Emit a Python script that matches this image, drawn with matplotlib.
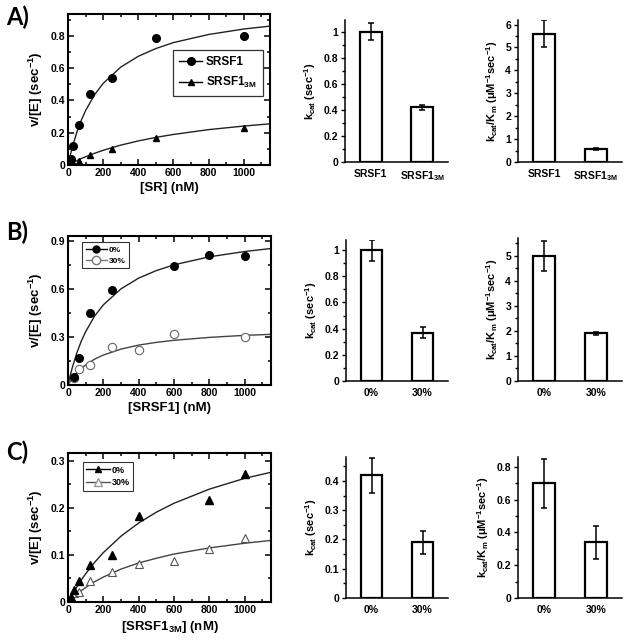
import matplotlib
matplotlib.use("Agg")
import matplotlib.pyplot as plt
from matplotlib.lines import Line2D
from matplotlib.ticker import MultipleLocator, FuncFormatter

plt.rcParams["font.family"] = ["Liberation Sans", "DejaVu Sans"]
plt.rcParams["font.weight"] = "bold"
plt.rcParams["axes.labelweight"] = "bold"
plt.rcParams["mathtext.fontset"] = "custom"
plt.rcParams["mathtext.rm"] = "Liberation Sans:bold"
plt.rcParams["mathtext.it"] = "Liberation Sans:bold"
plt.rcParams["mathtext.bf"] = "Liberation Sans:bold"
plt.rcParams["mathtext.default"] = "rm"

# ---------- data ----------

# A) SRSF1 vs SRSF1_3M
A_x_wt = [7.8, 15.6, 31.25, 62.5, 125, 250, 500, 1000]
A_y_wt = [0.02, 0.04, 0.115, 0.25, 0.44, 0.54, 0.785, 0.80]
A_x_3m = [15.6, 31.25, 62.5, 125, 250, 500, 1000]
A_y_3m = [0.01, 0.015, 0.025, 0.062, 0.10, 0.166, 0.232]

# B) SRSF1, 0% vs 30%
B_x_0 = [31.25, 62.5, 125, 250, 600, 800, 1000]
B_y_0 = [0.05, 0.17, 0.45, 0.59, 0.74, 0.81, 0.805]
B_x_30 = [31.25, 62.5, 125, 250, 400, 600, 1000]
B_y_30 = [0.045, 0.10, 0.125, 0.24, 0.218, 0.32, 0.30]

# C) SRSF1_3M, 0% vs 30%
C_x_0 = [15.6, 31.25, 62.5, 125, 250, 400, 800, 1000]
C_y_0 = [0.01, 0.025, 0.045, 0.078, 0.10, 0.182, 0.218, 0.272]
C_x_30 = [31.25, 62.5, 125, 250, 400, 600, 800, 1000]
C_y_30 = [0.02, 0.022, 0.045, 0.063, 0.08, 0.087, 0.113, 0.137]

# fitted curves
fit_x = [0, 10, 25, 50, 75, 100, 150, 200, 300, 400, 500, 600, 800, 1000, 1150]
fit_A_wt = [0, 0.048, 0.112, 0.202, 0.275, 0.337, 0.433, 0.505, 0.606, 0.673,
            0.721, 0.758, 0.808, 0.842, 0.860]
fit_A_3m = [0, 0.006, 0.014, 0.027, 0.040, 0.051, 0.072, 0.091, 0.123, 0.149,
            0.171, 0.189, 0.219, 0.241, 0.255]
fit_B_0 = [0, 0.048, 0.111, 0.200, 0.273, 0.333, 0.429, 0.500, 0.600, 0.667,
           0.714, 0.750, 0.800, 0.833, 0.852]
fit_B_30 = [0, 0.018, 0.042, 0.076, 0.103, 0.125, 0.161, 0.187, 0.224, 0.249,
            0.266, 0.279, 0.297, 0.310, 0.316]
fit_C_0 = [0, 0.007, 0.017, 0.032, 0.047, 0.060, 0.084, 0.105, 0.140, 0.168,
           0.191, 0.210, 0.240, 0.263, 0.276]
fit_C_30 = [0, 0.004, 0.009, 0.017, 0.024, 0.031, 0.043, 0.053, 0.070, 0.083,
            0.093, 0.102, 0.115, 0.125, 0.131]

# bar panels
labels_A = ["SRSF1", "SRSF1$_{3M}$"]
labels_pct = ["0%", "30%"]
A_kcat, A_kcat_err = [1.0, 0.42], [0.065, 0.02]
A_eff, A_eff_err = [5.6, 0.58], [0.6, 0.05]
B_kcat, B_kcat_err = [1.0, 0.37], [0.08, 0.04]
B_eff, B_eff_err = [5.0, 1.9], [0.6, 0.05]
C_kcat, C_kcat_err = [0.42, 0.19], [0.06, 0.04]
C_eff, C_eff_err = [0.70, 0.34], [0.15, 0.10]

KCAT_LABEL = r"k$_{cat}$ (sec$^{-1}$)"
EFF_LABEL = r"k$_{cat}$/K$_{m}$ ($\mu$M$^{-1}$sec$^{-1}$)"
VE_LABEL = r"v/[E] (sec$^{-1}$)"

fmt = FuncFormatter(lambda v, p: f"{v:g}")


# ---------- helpers ----------

def style_scatter(ax, ymax, ymajor, yminor, xlabel):
    ax.set_xlim(0, 1150)
    ax.set_ylim(0, ymax)
    ax.xaxis.set_major_locator(MultipleLocator(200))
    ax.xaxis.set_minor_locator(MultipleLocator(100))
    ax.yaxis.set_major_locator(MultipleLocator(ymajor))
    ax.yaxis.set_minor_locator(MultipleLocator(yminor))
    ax.yaxis.set_major_formatter(fmt)
    ax.tick_params(which="both", direction="in", top=True, right=True,
                   labelsize=7.5, width=1.1, pad=2)
    ax.tick_params(which="major", length=4)
    ax.tick_params(which="minor", length=2.5)
    for s in ax.spines.values():
        s.set_linewidth(1.5)
    ax.set_xlabel(xlabel, fontsize=9.5, labelpad=3)
    ax.set_ylabel(VE_LABEL, fontsize=9.5, labelpad=4)


def bar_panel(ax, labels, vals, errs, ymax, major, minor, ylabel):
    x = range(len(vals))
    ax.bar(x, vals, width=0.42, color="white", edgecolor="black", linewidth=1.6)
    ax.errorbar(x, vals, yerr=errs, fmt="none", ecolor="black",
                elinewidth=1.1, capsize=2, capthick=1.1)
    ax.set_xlim(-0.5, 1.5)
    ax.set_ylim(0, ymax)
    ax.set_xticks(list(x))
    ax.set_xticklabels(labels, fontsize=7.5)
    ax.tick_params(axis="x", length=0, pad=5)
    ax.yaxis.set_major_locator(MultipleLocator(major))
    ax.yaxis.set_minor_locator(MultipleLocator(minor))
    ax.yaxis.set_major_formatter(fmt)
    ax.tick_params(axis="y", which="both", direction="out", labelsize=7.5,
                   width=1.0, pad=2)
    ax.tick_params(axis="y", which="major", length=3)
    ax.tick_params(axis="y", which="minor", length=2)
    ax.spines["top"].set_visible(False)
    ax.spines["right"].set_visible(False)
    ax.spines["left"].set_linewidth(1.1)
    ax.spines["bottom"].set_linewidth(1.1)
    ax.set_ylabel(ylabel, fontsize=8, labelpad=4)


# ---------- figure ----------

fig = plt.figure(figsize=(6.29, 6.44), dpi=100)
W, H = 629, 644


def add_ax(left, top, right, bottom):
    return fig.add_axes([left / W, 1 - bottom / H, (right - left) / W, (bottom - top) / H])


# A) scatter
ax = add_ax(68, 14, 270, 165)
ax.plot(fit_x, fit_A_wt, color="#222", lw=1.0)
ax.plot(fit_x, fit_A_3m, color="#222", lw=1.0)
ax.plot(A_x_wt, A_y_wt, "o", color="black", ms=5.5, ls="none")
ax.plot(A_x_3m, A_y_3m, "^", color="black", ms=4.5, ls="none")
style_scatter(ax, 0.935, 0.2, 0.1, "[SR] (nM)")
handles = [Line2D([], [], color="black", marker="o", ms=5.5, lw=1.0),
           Line2D([], [], color="black", marker="^", ms=4.5, lw=1.0)]
leg = ax.legend(handles, labels_A, loc="upper left", bbox_to_anchor=(0.49, 0.8),
                fontsize=8.5, fancybox=False, edgecolor="black", handlelength=2.0,
                handletextpad=0.3, borderpad=0.5, labelspacing=0.6)
leg.get_frame().set_linewidth(0.9)

# B) scatter
ax = add_ax(68, 236, 271, 385)
ax.plot(fit_x, fit_B_0, color="#222", lw=1.0)
ax.plot(fit_x, fit_B_30, color="#444", lw=1.0)
ax.plot(B_x_30, B_y_30, "o", mfc="white", mec="#666", ms=6, mew=0.8, ls="none")
ax.plot(B_x_0, B_y_0, "o", color="black", ms=5.5, ls="none")
style_scatter(ax, 0.93, 0.3, 0.15, "[SRSF1] (nM)")
handles = [Line2D([], [], color="black", marker="o", ms=5, lw=1.0),
           Line2D([], [], color="#777", marker="o", mfc="white", mec="#777", ms=6, lw=1.0)]
leg = ax.legend(handles, labels_pct, loc="upper left", bbox_to_anchor=(0.05, 0.985),
                fontsize=6, fancybox=False, edgecolor="black", handlelength=2.6,
                handletextpad=0.2, borderpad=0.4, labelspacing=0.4)
leg.get_frame().set_linewidth(0.8)

# C) scatter
ax = add_ax(68, 453, 271, 602)
ax.plot(fit_x, fit_C_0, color="#222", lw=1.0)
ax.plot(fit_x, fit_C_30, color="#444", lw=1.0)
ax.plot(C_x_30, C_y_30, "^", mfc="white", mec="#555", ms=5.5, mew=0.8, ls="none")
ax.plot(C_x_0, C_y_0, "^", color="black", ms=5.5, ls="none")
style_scatter(ax, 0.317, 0.1, 0.05, "[SRSF1$_{3M}$] (nM)")
handles = [Line2D([], [], color="black", marker="^", ms=5, lw=1.0),
           Line2D([], [], color="#555", marker="^", mfc="white", mec="#999", ms=5.5, lw=1.0)]
leg = ax.legend(handles, labels_pct, loc="upper left", bbox_to_anchor=(0.05, 0.97),
                fontsize=6.5, fancybox=False, edgecolor="black", handlelength=2.6,
                handletextpad=0.2, borderpad=0.4, labelspacing=0.4)
leg.get_frame().set_linewidth(0.8)

# bar panels
bar_panel(add_ax(345, 20, 448, 162), labels_A, A_kcat, A_kcat_err, 1.09, 0.2, 0.1, KCAT_LABEL)
bar_panel(add_ax(518, 20, 622, 162), labels_A, A_eff, A_eff_err, 6.2, 1, 0.5, EFF_LABEL)
bar_panel(add_ax(346, 240, 448, 381), labels_pct, B_kcat, B_kcat_err, 1.077, 0.2, 0.1, KCAT_LABEL)
bar_panel(add_ax(518, 238, 622, 381), labels_pct, B_eff, B_eff_err, 5.71, 1, 0.5, EFF_LABEL)
bar_panel(add_ax(346, 457, 448, 598), labels_pct, C_kcat, C_kcat_err, 0.482, 0.1, 0.05, KCAT_LABEL)
bar_panel(add_ax(518, 457, 622, 598), labels_pct, C_eff, C_eff_err, 0.86, 0.2, 0.1, EFF_LABEL)

# panel letters
for letter, ypx in [("A)", 17), ("B)", 232), ("C)", 452)]:
    fig.text(6 / W, 1 - ypx / H, letter, fontsize=17, fontweight="bold",
             family=["Lato", "DejaVu Sans"], va="center", ha="left")

fig.savefig("out.png", dpi=100)
